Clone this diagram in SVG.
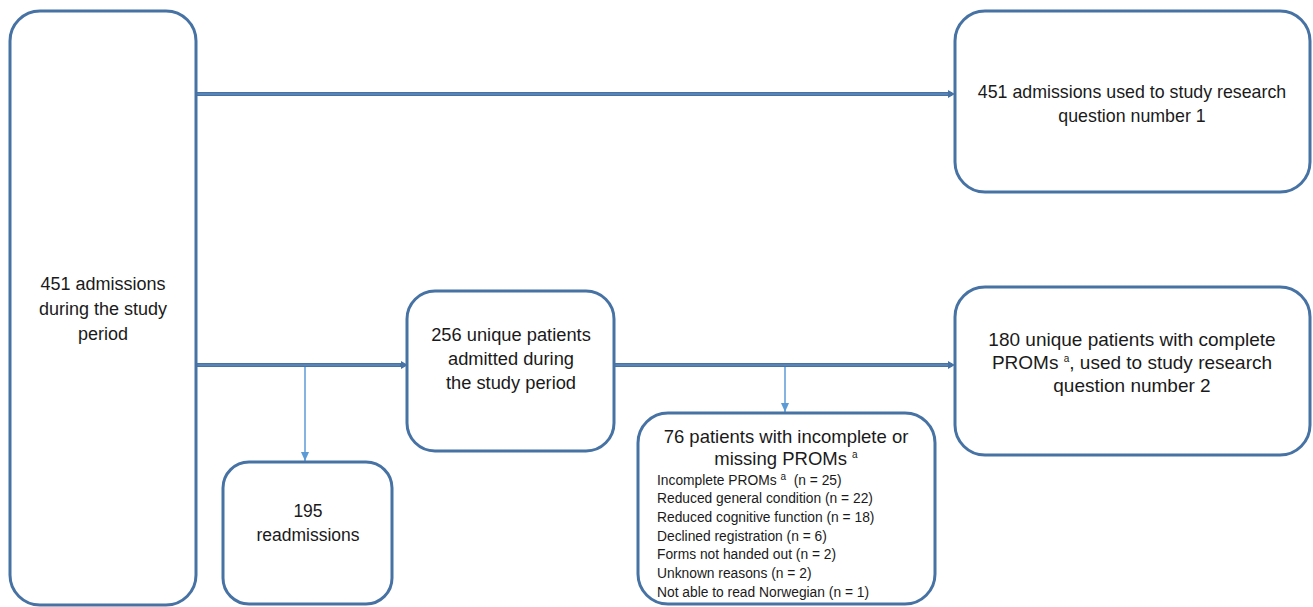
<svg xmlns="http://www.w3.org/2000/svg" width="1313" height="607" viewBox="0 0 1313 607">
<defs>
<style>
.box{fill:#fff;stroke:#4672a4;stroke-width:3}
.t{font-family:"Liberation Sans",Arial,sans-serif;font-size:18px;fill:#1a1a1a;text-anchor:middle}
.s{font-family:"Liberation Sans",Arial,sans-serif;font-size:13.8px;fill:#1a1a1a}
.sup{font-size:10px}
.main{stroke:#4672a4;stroke-width:4;fill:none}
.mainin{stroke:#6b95c8;stroke-width:1;fill:none}
.thin{stroke:#5b9bd5;stroke-width:1.5;fill:none}
</style>
<marker id="ah" markerWidth="10" markerHeight="10" refX="9" refY="5" orient="auto" markerUnits="userSpaceOnUse">
<path d="M0,1 L9,5 L0,9 Z" fill="#5b9bd5"/>
</marker>
</defs>
<g id="connectors">
<line class="main" x1="196" y1="94" x2="952" y2="94"/>
<line class="mainin" x1="196" y1="94" x2="948" y2="94"/>
<path d="M948,90 L955,94 L948,98 Z" fill="#4672a4"/>
<line class="main" x1="196" y1="365" x2="404" y2="365"/>
<line class="mainin" x1="196" y1="365" x2="400" y2="365"/>
<path d="M401,361 L408,365 L401,369 Z" fill="#4672a4"/>
<line class="main" x1="614" y1="365" x2="952" y2="365"/>
<line class="mainin" x1="614" y1="365" x2="948" y2="365"/>
<path d="M948,361 L955,365 L948,369 Z" fill="#4672a4"/>
<line class="thin" x1="305" y1="367" x2="305" y2="461" marker-end="url(#ah)"/>
<line class="thin" x1="785" y1="367" x2="785" y2="412" marker-end="url(#ah)"/>
</g>
<g id="n-admissions">
<rect class="box" x="10" y="11" width="186" height="594" rx="30"/>
<text class="t" x="103" y="290">451 admissions</text>
<text class="t" x="103" y="315">during the study</text>
<text class="t" x="103" y="340">period</text>
</g>
<g id="n-rq1">
<rect class="box" x="955" y="11" width="355" height="181" rx="30"/>
<text class="t" x="1132" y="98" style="font-size:17.8px">451 admissions used to study research</text>
<text class="t" x="1132" y="122" style="font-size:17.8px">question number 1</text>
</g>
<g id="n-unique">
<rect class="box" x="407" y="291" width="207" height="160" rx="28"/>
<text class="t" x="511" y="341" style="font-size:18.3px">256 unique patients</text>
<text class="t" x="511" y="365" style="font-size:18.3px">admitted during</text>
<text class="t" x="511" y="389" style="font-size:18.3px">the study period</text>
</g>
<g id="n-rq2">
<rect class="box" x="955" y="287" width="355" height="168" rx="30"/>
<text class="t" x="1132" y="346" style="font-size:19px">180 unique patients with complete</text>
<text class="t" x="1132" y="369" style="font-size:19px">PROMs <tspan class="sup" dy="-7">a</tspan><tspan dy="7">, used to study research</tspan></text>
<text class="t" x="1132" y="392" style="font-size:19px">question number 2</text>
</g>
<g id="n-readmissions">
<rect class="box" x="223" y="462" width="169" height="142" rx="26"/>
<text class="t" x="308" y="517" style="font-size:17.5px">195</text>
<text class="t" x="308" y="541" style="font-size:17.5px">readmissions</text>
</g>
<g id="n-incomplete">
<rect class="box" x="638" y="413" width="297" height="191" rx="30"/>
<text class="t" x="786" y="443" style="font-size:18.5px">76 patients with incomplete or</text>
<text class="t" x="786" y="465" style="font-size:18.5px">missing PROMs <tspan class="sup" dy="-7">a</tspan></text>
<text class="s" x="657" y="485">Incomplete PROMs <tspan class="sup" dy="-5">a</tspan><tspan dy="5">&#160; (n = 25)</tspan></text>
<text class="s" x="657" y="503">Reduced general condition (n = 22)</text>
<text class="s" x="657" y="522">Reduced cognitive function (n = 18)</text>
<text class="s" x="657" y="541">Declined registration (n = 6)</text>
<text class="s" x="657" y="559">Forms not handed out (n = 2)</text>
<text class="s" x="657" y="578">Unknown reasons (n = 2)</text>
<text class="s" x="657" y="597">Not able to read Norwegian (n = 1)</text>
</g>
</svg>
